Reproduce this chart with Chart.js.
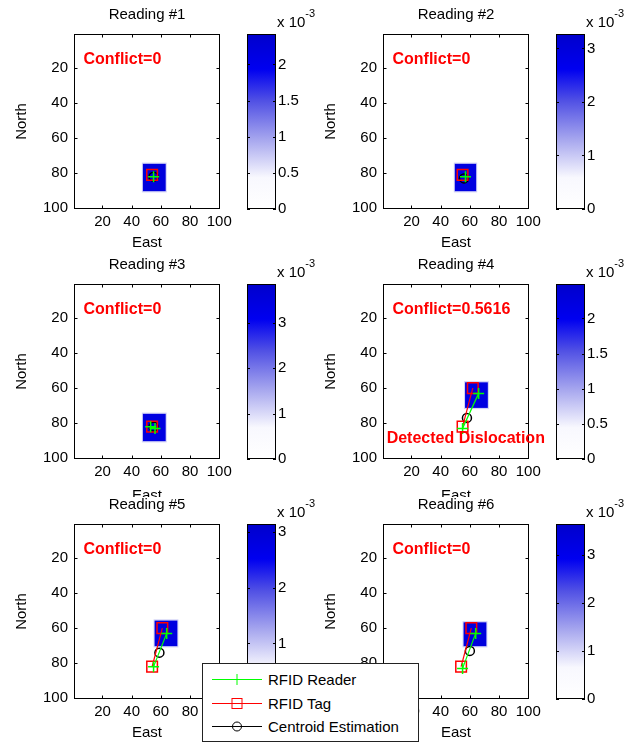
<!DOCTYPE html>
<html>
<head>
<meta charset="utf-8">
<script src="https://cdn.jsdelivr.net/npm/chart.js@4.4.1/dist/chart.umd.min.js"></script>
<style>
    body { margin: 0; background: #fff; }
    #fig { position: relative; width: 634px; height: 742px; overflow: hidden; }
    #fig canvas { position: absolute; }
    #legend { position: absolute; left: 202px; top: 663px; font-family: "Liberation Sans", Arial, sans-serif; }
</style>
</head>
<body>
<div id="fig"></div>
<script>
// Readings (heat values in units of 1e-3)
const panelTitles = ['Reading #1', 'Reading #2', 'Reading #3', 'Reading #4', 'Reading #5', 'Reading #6'];
const conflictText = ['Conflict=0', 'Conflict=0', 'Conflict=0', 'Conflict=0.5616', 'Conflict=0', 'Conflict=0'];
const dislocationText = ['', '', '', 'Detected Dislocation', '', ''];
const seriesNames = ['RFID Reader', 'RFID Tag', 'Centroid Estimation'];
const gridTicks = [20, 40, 60, 80, 100];
const colorbarMax = [2.42, 3.27, 3.86, 2.49, 3.15, 3.64];
const colorbarTicks = [
    [0, 0.5, 1, 1.5, 2], [0, 1, 2, 3], [0, 1, 2, 3],
    [0, 0.5, 1, 1.5, 2], [0, 1, 2, 3], [0, 1, 2, 3]
];
const readerEast = [[55], [57], [53, 56], [55, 66], [55, 64], [55, 64]];
const readerNorth = [[82], [82], [82, 83], [83, 63], [82, 63], [83, 63]];
const tagEast = [[54], [55], [54], [55, 62], [54, 61], [54, 61]];
const tagNorth = [[81], [81], [82], [82, 60], [82, 60], [82, 60]];
const centroidEast = [[55], [56], [55], [58], [59], [60]];
const centroidNorth = [[82], [83], [82], [77], [74], [73]];
const heatEast = [[47, 64], [49, 65], [47, 64], [56, 73], [55, 72], [55, 72]];
const heatNorth = [[74, 91], [74, 91], [74, 91], [56, 72], [55, 71], [56, 71]];
const heatCore = [2.2, 2.9, 3.4, 2.2, 2.8, 3.3];
const heatRim = [0.7, 0.95, 1.1, 0.7, 0.9, 1.05];

// text anchors in data units
const conflictAt = { x: 7, y: 15 };
const dislocationAt = { x: 3, y: 89 };

// layout of the 3 rows
const rowTop = [0, 250, 497];
const rowHeight = [250, 247, 245];
const titlePadTop = [7.5, 7.5, 0.5];
const xAxisHeight = [41, 38, 43];
const eastPadBottom = [0, -6.5, 1.5];

Chart.defaults.font.family = '"Liberation Sans", Arial, sans-serif';
Chart.defaults.font.size = 15;
Chart.defaults.color = '#000';

// white -> blue colormap
const cmapStops = [
    [0, [255, 255, 255]], [0.18, [248, 248, 254]], [0.4, [165, 165, 238]],
    [0.62, [80, 80, 228]], [0.8, [0, 0, 240]], [1, [0, 0, 204]]
];
function heatColor(f) {
    f = Math.max(0, Math.min(1, f));
    for (let k = 1; k < cmapStops.length; k++) {
        const [f1, c1] = cmapStops[k];
        const [f0, c0] = cmapStops[k - 1];
        if (f <= f1) {
            const t = (f - f0) / (f1 - f0);
            const c = c0.map((v, j) => Math.round(v + (c1[j] - v) * t));
            return `rgb(${c[0]},${c[1]},${c[2]})`;
        }
    }
    return 'rgb(0,0,204)';
}

const figurePlugin = {
    id: 'figure',
    beforeDatasetsDraw(chart, args, opts) {
        const i = opts.panel;
        const { ctx, scales: { x, y } } = chart;
        const cell = (e0, e1, n0, n1) => {
            const a = x.getPixelForValue(e0), b = x.getPixelForValue(e1);
            const c = y.getPixelForValue(n0), d = y.getPixelForValue(n1);
            ctx.fillRect(Math.min(a, b), Math.min(c, d), Math.abs(b - a), Math.abs(d - c));
        };
        const [e0, e1] = heatEast[i];
        const [n0, n1] = heatNorth[i];
        ctx.save();
        ctx.fillStyle = heatColor(heatRim[i] / colorbarMax[i]);
        cell(e0, e1, n0, n1);
        ctx.fillStyle = heatColor(heatCore[i] / colorbarMax[i]);
        cell(e0 + 0.7, e1 - 0.7, n0 + 0.7, n1 - 0.7);
        ctx.restore();
    },
    afterDatasetsDraw(chart, args, opts) {
        const i = opts.panel;
        const { ctx, chartArea: area, scales: { x, y, cb } } = chart;
        const L = Math.round(area.left) + 0.5, R = Math.round(area.right) - 0.5;
        const T = Math.round(area.top) + 0.5, B = Math.round(area.bottom) - 0.5;
        ctx.save();
        ctx.strokeStyle = '#000';
        ctx.lineWidth = 1;
        ctx.strokeRect(L, T, R - L, B - T);
        ctx.beginPath();
        gridTicks.forEach(v => {
            const px = Math.round(x.getPixelForValue(v)) + 0.5;
            ctx.moveTo(px, B); ctx.lineTo(px, B - 3);
            ctx.moveTo(px, T); ctx.lineTo(px, T + 3);
            const py = Math.round(y.getPixelForValue(v)) + 0.5;
            ctx.moveTo(L, py); ctx.lineTo(L + 3, py);
            ctx.moveTo(R, py); ctx.lineTo(R - 3, py);
        });
        ctx.stroke();

        // colorbar
        const cx0 = Math.round(area.right) + 27, cw = 29;
        const ct = cb.getPixelForValue(colorbarMax[i]);
        const cbot = cb.getPixelForValue(0);
        const grad = ctx.createLinearGradient(0, cbot, 0, ct);
        cmapStops.forEach(([f]) => grad.addColorStop(f, heatColor(f)));
        ctx.fillStyle = grad;
        ctx.fillRect(cx0, ct, cw, cbot - ct);
        ctx.strokeRect(cx0 + 0.5, Math.round(ct) + 0.5, cw - 1, Math.round(cbot - ct) - 1);
        ctx.beginPath();
        colorbarTicks[i].forEach(v => {
            const py = Math.round(cb.getPixelForValue(v)) + 0.5;
            ctx.moveTo(cx0, py); ctx.lineTo(cx0 + 3, py);
            ctx.moveTo(cx0 + cw, py); ctx.lineTo(cx0 + cw - 3, py);
        });
        ctx.stroke();

        // exponent label
        ctx.fillStyle = '#000';
        ctx.textAlign = 'left';
        ctx.textBaseline = 'alphabetic';
        ctx.font = '15px "Liberation Sans", Arial, sans-serif';
        const ex = Math.round(area.right) + 57;
        ctx.fillText('x 10', ex, area.top - 7);
        const w = ctx.measureText('x 10').width;
        ctx.font = '11px "Liberation Sans", Arial, sans-serif';
        ctx.fillText('-3', ex + w, area.top - 17);

        // annotations
        ctx.fillStyle = '#ff0000';
        ctx.font = 'bold 16px "Liberation Sans", Arial, sans-serif';
        ctx.textBaseline = 'middle';
        ctx.fillText(conflictText[i], x.getPixelForValue(conflictAt.x), y.getPixelForValue(conflictAt.y));
        if (dislocationText[i]) {
            ctx.fillText(dislocationText[i], x.getPixelForValue(dislocationAt.x), y.getPixelForValue(dislocationAt.y));
        }
        ctx.restore();
    }
};

function toPoints(xs, ys) {
    return xs.map((v, k) => ({ x: v, y: ys[k] }));
}

function series(label, data, color, style, radius) {
    return {
        label: label,
        data: data,
        showLine: true,
        borderColor: color,
        borderWidth: 1.2,
        backgroundColor: 'transparent',
        pointStyle: style,
        pointRadius: radius,
        pointBorderColor: color,
        pointBackgroundColor: 'transparent',
        pointBorderWidth: 1.5
    };
}

function makePanel(i) {
    const row = Math.floor(i / 2), col = i % 2;
    const canvas = document.createElement('canvas');
    canvas.width = 317;
    canvas.height = rowHeight[row];
    canvas.style.left = (col ? 309 : 0) + 'px';
    canvas.style.top = rowTop[row] + 'px';
    document.getElementById('fig').appendChild(canvas);

    const fixedTicks = list => scale => { scale.ticks = list.map(v => ({ value: v })); };

    new Chart(canvas, {
        type: 'scatter',
        data: {
            datasets: [
                series(seriesNames[0], toPoints(readerEast[i], readerNorth[i]), '#00ff00', 'cross', 5.5),
                series(seriesNames[1], toPoints(tagEast[i], tagNorth[i]), '#ff0000', 'rect', 7.5),
                series(seriesNames[2], toPoints(centroidEast[i], centroidNorth[i]), '#000000', 'circle', 4.5)
            ]
        },
        options: {
            responsive: false,
            animation: false,
            devicePixelRatio: 1,
            layout: { padding: 0 },
            plugins: {
                legend: { display: false },
                tooltip: { enabled: false },
                title: {
                    display: true,
                    text: panelTitles[i],
                    fullSize: false,
                    color: '#000',
                    font: { size: 15, weight: 'normal', lineHeight: 1 },
                    padding: { top: titlePadTop[row], bottom: 11.5 }
                },
                figure: { panel: i }
            },
            scales: {
                x: {
                    type: 'linear',
                    min: 0.5,
                    max: 100.5,
                    grid: { display: false, drawTicks: false },
                    border: { display: false },
                    afterBuildTicks: fixedTicks(gridTicks),
                    afterFit: s => { s.height = xAxisHeight[row]; },
                    ticks: { padding: 4, autoSkip: false, maxRotation: 0, callback: v => String(v) },
                    title: {
                        display: true, text: 'East',
                        font: { size: 15, lineHeight: 1 },
                        padding: { top: 0, bottom: eastPadBottom[row] }
                    }
                },
                y: {
                    type: 'linear',
                    reverse: true,
                    min: 0.5,
                    max: 100.5,
                    grid: { display: false, drawTicks: false },
                    border: { display: false },
                    afterBuildTicks: fixedTicks(gridTicks),
                    afterFit: s => { s.width = 74; },
                    ticks: { padding: 6, autoSkip: false, callback: v => String(v) },
                    title: {
                        display: true, text: 'North',
                        font: { size: 15, lineHeight: 1 },
                        padding: { top: 14.5, bottom: 0 }
                    }
                },
                cb: {
                    type: 'linear',
                    position: 'right',
                    min: 0,
                    max: colorbarMax[i],
                    // an invisible tick mark pushes the labels past the colorbar
                    grid: { display: true, drawOnChartArea: false, drawTicks: true, tickLength: 57, color: 'rgba(0,0,0,0)' },
                    border: { display: false },
                    afterBuildTicks: fixedTicks(colorbarTicks[i]),
                    afterFit: s => { s.width = 97; },
                    ticks: { padding: 1, autoSkip: false, callback: v => String(v) }
                }
            }
        },
        plugins: [figurePlugin]
    });
}

for (let i = 0; i < 6; i++) makePanel(i);

// shared legend, drawn over the bottom row
const legendRows = [16, 40, 63];
const legendColors = ['#00ff00', '#ff0000', '#000000'];
const markers = [
    cy => `<path d="M35 ${cy - 5.5}v11M29.5 ${cy}h11" stroke="#00ff00" fill="none"/>`,
    cy => `<rect x="30" y="${cy - 5}" width="10" height="10" stroke="#ff0000" fill="none"/>`,
    cy => `<circle cx="35" cy="${cy}" r="4.5" stroke="#000" fill="none"/>`
];
let svg = '<svg id="legend" width="217" height="79" xmlns="http://www.w3.org/2000/svg">' +
    '<rect x="0.5" y="0.5" width="216" height="78" fill="#fff" stroke="#222"/>';
seriesNames.forEach((name, k) => {
    const cy = legendRows[k] + 0.5;
    svg += `<line x1="10" y1="${cy}" x2="60" y2="${cy}" stroke="${legendColors[k]}"/>`;
    svg += markers[k](cy);
    svg += `<text x="66" y="${legendRows[k] + 5.5}" font-size="15" fill="#000">${name}</text>`;
});
svg += '</svg>';
document.getElementById('fig').insertAdjacentHTML('beforeend', svg);
</script>
</body>
</html>
